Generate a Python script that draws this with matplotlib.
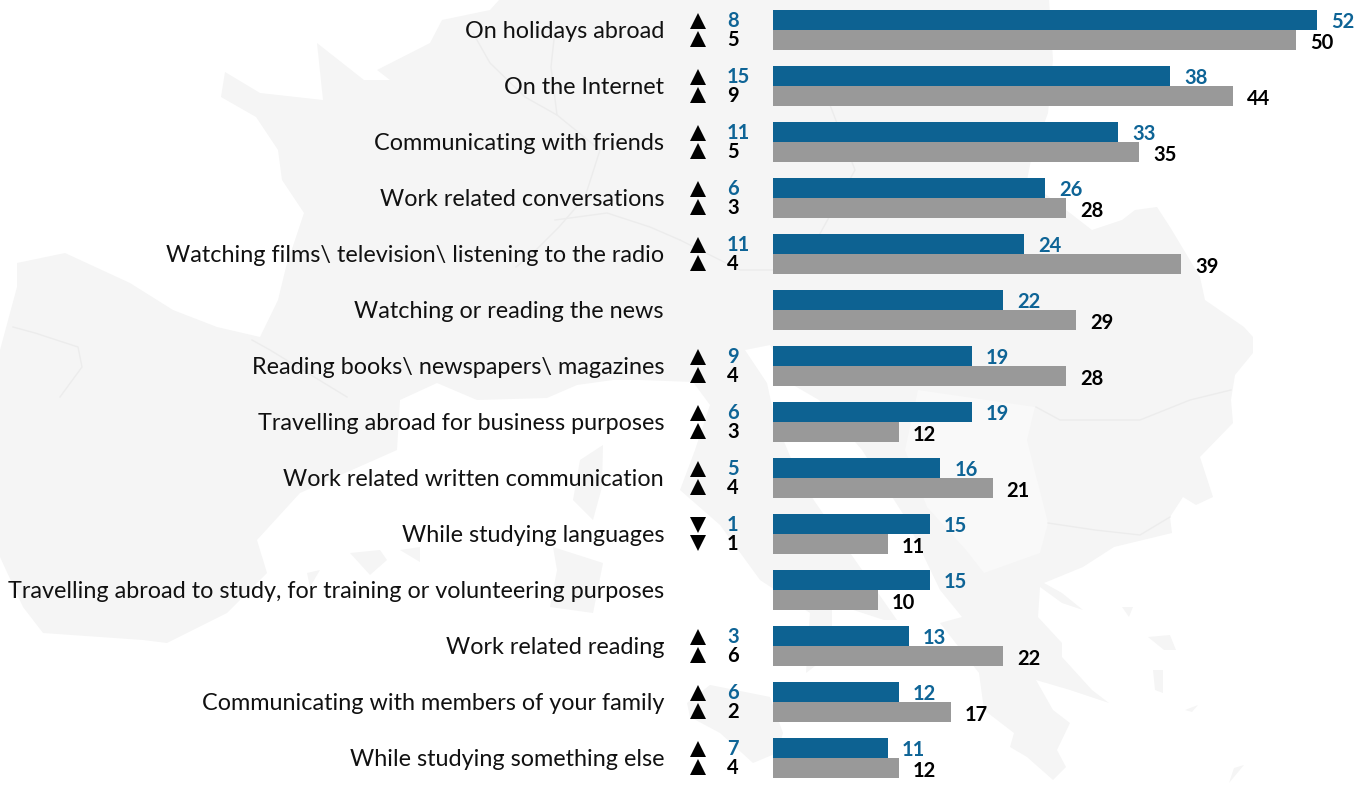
import numpy as np
from matplotlib import pyplot as plt
from matplotlib.patches import Polygon

plt.rcParams['font.family'] = ['Lato', 'DejaVu Sans']

# Chart data
labels = ['On holidays abroad', 'On the Internet', 'Communicating with friends',
          'Work related conversations', 'Watching films\\ television\\ listening to the radio',
          'Watching or reading the news', 'Reading books\\ newspapers\\ magazines',
          'Travelling abroad for business purposes', 'Work related written communication',
          'While studying languages',
          'Travelling abroad to study, for training or volunteering purposes',
          'Work related reading', 'Communicating with members of your family',
          'While studying something else']
blue_vals = [52, 38, 33, 26, 24, 22, 19, 19, 16, 15, 15, 13, 12, 11]
grey_vals = [50, 44, 35, 28, 39, 29, 28, 12, 21, 11, 10, 22, 17, 12]
blue_change = [8, 15, 11, 6, 11, None, 9, 6, 5, 1, None, 3, 6, 7]
grey_change = [5, 9, 5, 3, 4, None, 4, 3, 4, 1, None, 6, 2, 4]
change_dir = ['^', '^', '^', '^', '^', None, '^', '^', '^', 'v', None, '^', '^', '^']

BLUE = '#0d6292'
BLUE_TXT = '#0e6496'
GREY = '#999999'
LAND = '#f5f5f5'

# Background map outline, traced by eye in picture pixels
map_main = [(499, 0), (1049, 0), (1053, 60), (1048, 113), (1031, 160), (1027, 180), (1070, 213),
            (1092, 230), (1122, 220), (1135, 210), (1157, 207), (1170, 227), (1200, 277), (1205, 300),
            (1244, 327), (1253, 337), (1253, 353), (1235, 375), (1231, 400), (1233, 423), (1200, 457),
            (1213, 497), (1196, 505), (1183, 497), (1170, 517), (1172, 533), (1114, 547), (1083, 567),
            (1044, 583), (1062, 593), (1083, 610), (1062, 603), (1040, 587), (1038, 617), (1062, 643),
            (1062, 657), (1092, 690), (1109, 703), (1070, 690), (1036, 680), (1053, 710), (1070, 723),
            (1057, 750), (1066, 767), (1053, 780), (1027, 757), (1010, 747), (1014, 733), (984, 710),
            (979, 673), (940, 623), (962, 617), (940, 590), (905, 517), (862, 450), (819, 400),
            (793, 385), (770, 345), (745, 350), (767, 383), (775, 420), (800, 480), (853, 557),
            (897, 620), (884, 620), (832, 603), (832, 653), (806, 673), (810, 613), (760, 580),
            (720, 525), (680, 490), (695, 450), (710, 405), (693, 382), (640, 380), (613, 380),
            (577, 385), (547, 398), (477, 400), (437, 383), (400, 400), (397, 450), (300, 493),
            (257, 540), (267, 573), (227, 613), (167, 643), (143, 640), (43, 633), (23, 607),
            (0, 557), (0, 350), (17, 287), (17, 263), (65, 253), (130, 283), (173, 310), (217, 327),
            (260, 337), (278, 300), (286, 267), (304, 213), (282, 180), (278, 150), (256, 117),
            (221, 97), (225, 72), (260, 93), (323, 100), (317, 43), (364, 80), (390, 80), (377, 70),
            (430, 43), (442, 20), (490, 10)]
map_light = [(918, 390), (1035, 407), (1027, 440), (1048, 523), (1040, 553), (984, 573), (966, 550),
             (927, 507), (905, 450)]
map_islands = [
    [(687, 703), (710, 685), (770, 697), (783, 733), (777, 753), (753, 763), (720, 733), (690, 717)],
    [(553, 547), (603, 563), (593, 613), (550, 607), (557, 570)],
    [(603, 445), (602, 487), (593, 520), (573, 500), (580, 460)],
    [(350, 553), (380, 550), (387, 560), (370, 575)],
    [(400, 550), (420, 547), (420, 562)],
    [(307, 573), (320, 570), (310, 587)],
    [(1244, 765), (1229, 783), (1234, 768)],
    [(1153, 670), (1163, 670), (1163, 693), (1155, 690)],
    [(1148, 637), (1170, 635), (1176, 650), (1164, 650)],
    [(1122, 607), (1133, 607), (1129, 617)],
    [(1185, 710), (1198, 705), (1192, 712)],
]
map_borders = [
    [(473, 33), (490, 63), (525, 97), (557, 115)],
    [(555, 30), (551, 67), (557, 115), (600, 150), (585, 197), (559, 227), (533, 253), (516, 267)],
    [(555, 220), (607, 213), (650, 227), (680, 240)],
    [(252, 340), (270, 350), (347, 397)],
    [(13, 327), (35, 333), (78, 347), (82, 367), (60, 397)],
    [(680, 240), (740, 270), (800, 270), (855, 170), (830, 105)],
    [(1036, 407), (1060, 420), (1140, 420), (1190, 400), (1231, 390)],
    [(1048, 523), (1095, 530), (1140, 535), (1170, 517)],
]

fig = plt.figure(figsize=(13.59, 7.87), dpi=100)

# Background map in pixel coordinates
bg = fig.add_axes([0, 0, 1, 1])
bg.set_xlim(0, 1359)
bg.set_ylim(787, 0)
bg.axis('off')
bg.add_patch(Polygon(map_main, closed=True, fc=LAND, ec='none'))
bg.add_patch(Polygon(map_light, closed=True, fc='#f9f9f9', ec='none'))
for isl in map_islands:
    bg.add_patch(Polygon(isl, closed=True, fc=LAND, ec='none'))
for line in map_borders:
    xs, ys = zip(*line)
    bg.plot(xs, ys, color='#ececec', lw=1)

# Bar axes: spans from the bars' zero line to the right edge
ax = fig.add_axes([773 / 1359, 0, 1 - 773 / 1359, 1])
ax.patch.set_alpha(0)
px_per_unit = 10.46
row_px = 56
ax.set_xlim(0, (1359 - 773) / px_per_unit)
ax.set_ylim((787 - 30) / row_px, -30 / row_px)
ax.axis('off')

y = np.arange(len(labels))
h = 20 / row_px
ax.barh(y - h / 2, blue_vals, height=h, color=BLUE)
ax.barh(y + h / 2, grey_vals, height=h, color=GREY)


def put(text, x, yy, dx, dy, **kw):
    # dx, dy are picture pixels relative to the data point, dy positive downwards
    ax.annotate(text, (x, yy), xytext=(dx, -dy), textcoords='offset pixels',
                annotation_clip=False, **kw)


for i, lab in enumerate(labels):
    put(lab, 0, i, -109, 1, ha='right', va='center', fontsize=16.85, color='#111111')
    put(str(blue_vals[i]), blue_vals[i], i - h / 2, 14, 2, ha='left', va='center',
        fontsize=14.5, fontweight='bold', color=BLUE_TXT)
    put(str(grey_vals[i]), grey_vals[i], i + h / 2, 14, 3, ha='left', va='center',
        fontsize=14.5, fontweight='bold', color='black')
    if change_dir[i] is not None:
        put(str(blue_change[i]), 0, i - h / 2, -46, 1, ha='left', va='center',
            fontsize=14.5, fontweight='bold', color=BLUE_TXT)
        put(str(grey_change[i]), 0, i + h / 2, -46, 0, ha='left', va='center',
            fontsize=14.5, fontweight='bold', color='black')

# Change arrows sit left of the bars, placed through the same scale
arrow_x = (698 - 773) / px_per_unit
for i, d in enumerate(change_dir):
    if d is not None:
        ax.plot([arrow_x, arrow_x], [i - h / 2 + 1 / row_px, i + h / 2 - 1 / row_px], linestyle='none',
                marker=d, ms=11, color='black', mew=0, clip_on=False)

fig.savefig('out.png', dpi=100)
